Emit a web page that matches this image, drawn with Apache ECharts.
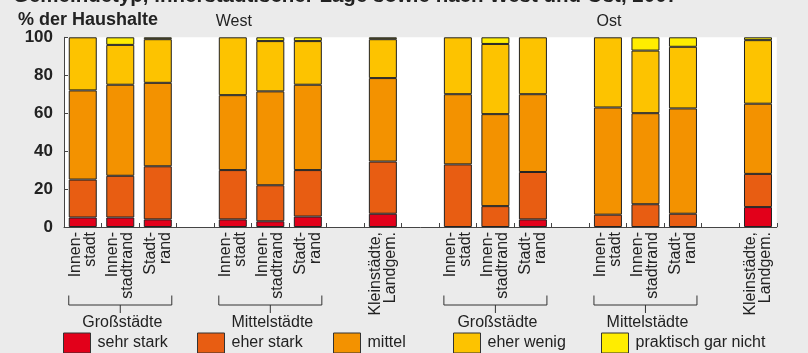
<!DOCTYPE html>
<html>
<head>
<meta charset="utf-8">
<script src="https://cdn.jsdelivr.net/npm/echarts@6/dist/echarts.min.js"></script>
<style>
  html, body { margin: 0; padding: 0; background: #ebebeb; }
  #chart { width: 808px; height: 353px; }
</style>
</head>
<body>
<div id="chart"></div>
<script>
// Category slots along the x axis; empty strings are spacer slots between groups.
const categories = [
  'Innen-\nstadt', 'Innen-\nstadtrand', 'Stadt-\nrand', '',
  'Innen-\nstadt', 'Innen-\nstadtrand', 'Stadt-\nrand', '',
  'Kleinstädte,\nLandgem.', '',
  'Innen-\nstadt', 'Innen-\nstadtrand', 'Stadt-\nrand', '',
  'Innen-\nstadt', 'Innen-\nstadtrand', 'Stadt-\nrand', '',
  'Kleinstädte,\nLandgem.'
];

const seriesNames = ['sehr stark', 'eher stark', 'mittel', 'eher wenig', 'praktisch gar nicht'];
const seriesColors = ['#e2001a', '#e85d12', '#f39200', '#fdc300', '#ffed00'];

// Shares in % of households (null = spacer slot)
const sehrStark   = [5,  5,  4,  null, 4,  3,   5.5,  null, 7,    null, 0,  0,    4,  null, 0,    0,  0,    null, 10.5];
const eherStark   = [20, 22, 28, null, 26, 19,  24.5, null, 27.5, null, 33, 11,   25, null, 6.5,  12, 7,    null, 17.5];
const mittel      = [47, 48, 44, null, 39.5, 49.5, 45, null, 44,  null, 37, 48.5, 41, null, 56.5, 48, 55.5, null, 37];
const eherWenig   = [28, 21, 23, null, 30.5, 26.5, 23, null, 20.5, null, 30, 37, 30, null, 37,   33, 32.5, null, 33.5];
const garNicht    = [0,  4,  1,  null, 0,  2,   2,    null, 1,    null, 0,  3.5,  0,  null, 0,    7,  5,    null, 1.5];

const yTicks = [0, 20, 40, 60, 80, 100];

// Group brackets below the axis: first and last category index of each group
const groupNames = ['Großstädte', 'Mittelstädte', 'Großstädte', 'Mittelstädte'];
const groupStart = [0, 4, 10, 14];
const groupEnd   = [2, 6, 12, 16];

// Region headings above the plot, centred over a category span
const regionNames = ['West', 'Ost'];
const regionFrom  = [0, 10];
const regionTo    = [8, 18];

const BAR_W = 28;
const FONT = '"Liberation Sans", Arial, Helvetica, sans-serif';
const INK = '#222';

const valueSets = [sehrStark, eherStark, mittel, eherWenig, garNicht];

const chart = echarts.init(document.getElementById('chart'), null, { renderer: 'canvas' });

const legendX = [63, 197, 333, 453, 601];

const option = {
  backgroundColor: '#ebebeb',
  animation: false,
  grid: {
    left: 64, right: 31.25, top: 37.3, bottom: 126,
    show: true, backgroundColor: '#ffffff', borderWidth: 0
  },
  legend: seriesNames.map((n, i) => ({
    data: [n],
    left: legendX[i], top: 332.5, padding: 0,
    itemWidth: 27, itemHeight: 20,
    icon: 'rect',
    itemStyle: { borderColor: '#333', borderWidth: 1 },
    textStyle: { fontFamily: FONT, fontSize: 16, color: INK, padding: [0, 0, 0, 2] },
    selectedMode: false
  })),
  xAxis: {
    type: 'category',
    data: categories,
    axisLine: { lineStyle: { color: '#444', width: 1 } },
    axisTick: { show: true, inside: true, length: 4, alignWithLabel: false, interval: 0, lineStyle: { color: '#444' } },
    axisLabel: {
      interval: 0, rotate: 90, margin: 5,
      fontFamily: FONT, fontSize: 16, lineHeight: 15, color: INK
    }
  },
  yAxis: {
    type: 'value', min: yTicks[0], max: yTicks[yTicks.length - 1], interval: 20,
    axisLine: { show: true, lineStyle: { color: '#444', width: 1 } },
    axisTick: { show: true, inside: true, length: 4, lineStyle: { color: '#444' } },
    splitLine: { show: false },
    axisLabel: {
      margin: 11, fontFamily: FONT, fontSize: 17, fontWeight: 'bold', color: INK,
      formatter: v => yTicks.includes(v) ? String(v) : ''
    }
  },
  series: seriesNames.map((name, i) => ({
    name,
    type: 'bar',
    stack: 'total',
    barWidth: BAR_W,
    itemStyle: { color: seriesColors[i], borderColor: '#222', borderWidth: 1 },
    data: valueSets[i].map(v => (v === null || v === 0) ? '-' : v)
  })),
  graphic: [
    {
      type: 'text', left: 13, top: -14.5,
      style: {
        text: 'Gemeindetyp, innerstädtischer Lage sowie nach West und Ost, 2007',
        font: 'bold 20.5px ' + FONT, fill: INK
      }
    },
    {
      type: 'text', left: 18, top: 11,
      style: { text: '% der Haushalte', font: 'bold 18px ' + FONT, fill: INK }
    }
  ]
};

chart.setOption(option);

// Brackets and headings placed from the category axis positions
const px = idx => chart.convertToPixel({ xAxisIndex: 0 }, idx);
const extra = [];
const LINE = { stroke: '#333', lineWidth: 1 };
const yBr = 305;
groupNames.forEach((g, i) => {
  const x0 = px(groupStart[i]) - BAR_W / 2;
  const x1 = px(groupEnd[i]) + BAR_W / 2;
  const xc = (x0 + x1) / 2;
  extra.push({ type: 'polyline', shape: { points: [[x0, yBr - 9.5], [x0, yBr], [x1, yBr], [x1, yBr - 9.5]] }, style: Object.assign({ fill: null }, LINE) });
  extra.push({ type: 'line', shape: { x1: xc, y1: yBr, x2: xc, y2: yBr + 8 }, style: LINE });
  extra.push({
    type: 'text', x: xc + 2, y: 323,
    style: { text: g, font: '16px ' + FONT, fill: INK, align: 'center', verticalAlign: 'middle' }
  });
});
regionNames.forEach((r, i) => {
  const xc = (px(regionFrom[i]) + px(regionTo[i])) / 2;
  extra.push({
    type: 'text', x: xc + 1, y: 22,
    style: { text: r, font: '16px ' + FONT, fill: INK, align: 'center', verticalAlign: 'middle' }
  });
});
chart.setOption({ graphic: option.graphic.concat(extra) });
</script>
</body>
</html>
